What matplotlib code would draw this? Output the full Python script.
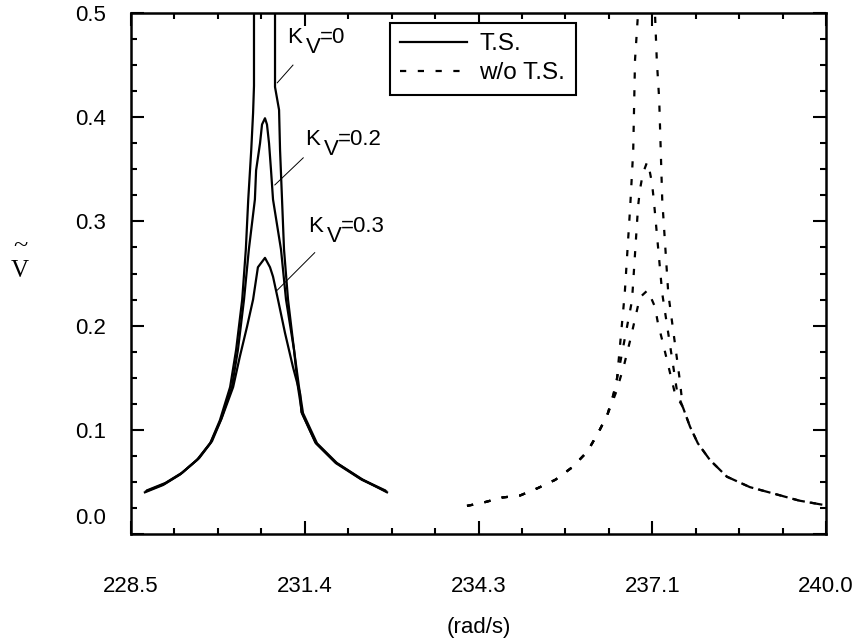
import matplotlib
matplotlib.use("Agg")
import matplotlib.pyplot as plt
from matplotlib.ticker import AutoMinorLocator, FixedLocator, MultipleLocator

plt.rcParams["font.family"] = ["Liberation Sans", "DejaVu Sans"]

# ---- T.S. (solid) response curves
ts_k0_x = [228.73, 229.03, 229.31, 229.59, 229.81, 229.97, 230.14, 230.24, 230.34,
           230.40, 230.44, 230.49, 230.52, 230.535, 230.535,
           230.883, 230.883, 230.95, 230.966, 230.999, 231.032, 231.098, 231.197,
           231.28, 231.346, 231.578, 231.909, 232.339, 232.736]
ts_k0_y = [0.040, 0.047, 0.057, 0.071, 0.087, 0.109, 0.141, 0.177, 0.225,
           0.273, 0.321, 0.369, 0.404, 0.430, 0.560,
           0.560, 0.429, 0.407, 0.369, 0.321, 0.273, 0.225, 0.177,
           0.141, 0.116, 0.087, 0.068, 0.052, 0.040]

ts_k2_x = [228.75, 229.05, 229.33, 229.61, 229.82, 229.99, 230.17, 230.27, 230.37,
           230.45, 230.55, 230.57, 230.635, 230.668, 230.717, 230.75, 230.784,
           230.817, 230.85, 230.982, 231.065, 231.197, 231.263, 231.33, 231.56,
           231.89, 232.32, 232.72]
ts_k2_y = [0.041, 0.048, 0.058, 0.072, 0.088, 0.110, 0.141, 0.177, 0.225,
           0.273, 0.321, 0.349, 0.375, 0.393, 0.399, 0.393, 0.375,
           0.349, 0.321, 0.273, 0.225, 0.177, 0.141, 0.116, 0.087,
           0.068, 0.052, 0.041]

ts_k3_x = [228.77, 229.07, 229.35, 229.63, 229.84, 230.00, 230.19, 230.30, 230.42,
           230.52, 230.60, 230.717, 230.80, 230.85, 230.932, 231.048, 231.181,
           231.296, 231.32, 231.55, 231.88, 232.30, 232.70]
ts_k3_y = [0.042, 0.049, 0.059, 0.073, 0.089, 0.111, 0.141, 0.170, 0.199,
           0.225, 0.256, 0.265, 0.256, 0.247, 0.225, 0.193, 0.160,
           0.135, 0.117, 0.088, 0.069, 0.053, 0.042]

# ---- w/o T.S. (dashed) response curves; the three share the low-frequency tail
nts_tail_x = [234.06, 234.32, 234.64, 234.94, 235.23, 235.52, 235.80, 236.05, 236.23,
              236.38]
nts_tail_y = [0.027, 0.030, 0.035, 0.037, 0.044, 0.052, 0.064, 0.079, 0.097,
              0.114]

nts_k0_x = [236.46, 236.54, 236.67, 236.76, 236.81, 236.84, 236.89, 236.89,
            237.17, 237.17, 237.20, 237.24, 237.29, 237.39, 237.58, 237.63, 237.75,
            237.88, 238.08, 238.36, 238.74, 239.12, 239.56, 239.95, 240.0]
nts_k0_y = [0.129, 0.148, 0.231, 0.314, 0.368, 0.455, 0.500, 0.560,
            0.560, 0.500, 0.455, 0.417, 0.321, 0.231, 0.148, 0.122, 0.103,
            0.087, 0.071, 0.055, 0.045, 0.039, 0.032, 0.028, 0.028]

nts_k2_x = [236.49, 236.58, 236.79, 236.89, 236.92, 236.97, 237.04,
            237.07, 237.12, 237.15, 237.29, 237.54, 237.63, 237.75,
            237.88, 238.08, 238.36, 238.74, 239.12, 239.56, 239.95, 240.0]
nts_k2_y = [0.135, 0.160, 0.224, 0.314, 0.330, 0.346, 0.357,
            0.352, 0.337, 0.321, 0.231, 0.135, 0.122, 0.103,
            0.087, 0.071, 0.055, 0.045, 0.039, 0.032, 0.028, 0.028]

nts_k3_x = [236.52, 236.65, 236.76, 236.92, 237.05, 237.17, 237.22,
            237.29, 237.50, 237.63, 237.75, 237.88, 238.08, 238.36, 238.74,
            239.12, 239.56, 239.95, 240.0]
nts_k3_y = [0.135, 0.160, 0.186, 0.227, 0.234, 0.218, 0.202,
            0.186, 0.135, 0.122, 0.103, 0.087, 0.071, 0.055, 0.045,
            0.039, 0.032, 0.028, 0.028]

# ---- K_V labels and their leader lines
kv_labels = ["0", "0.2", "0.3"]
kv_text_x = [231.08, 231.38, 231.43]
kv_text_y = [0.471, 0.373, 0.290]
kv_line_x0 = [231.18, 231.35, 231.54]
kv_line_y0 = [0.450, 0.361, 0.270]
kv_line_x1 = [230.92, 230.88, 230.92]
kv_line_y1 = [0.433, 0.335, 0.234]

x_ticks = [228.5, 231.375, 234.25, 237.125, 240.0]
x_tick_labels = ["228.5", "231.4", "234.3", "237.1", "240.0"]

FS = 16
DASH = (2.8, 5.2)

fig = plt.figure(figsize=(8.62, 6.44), dpi=100)
ax = fig.add_axes([131 / 862, 1 - 534 / 644, 695 / 862, 521 / 644])

lw = 1.6
ax.plot(ts_k0_x, ts_k0_y, color="black", lw=lw, label="T.S.")
ax.plot(ts_k2_x, ts_k2_y, color="black", lw=lw)
ax.plot(ts_k3_x, ts_k3_y, color="black", lw=lw)
ax.plot(nts_tail_x + nts_k0_x, nts_tail_y + nts_k0_y, color="black", lw=lw,
        dashes=DASH, label="w/o T.S.")
ax.plot(nts_tail_x + nts_k2_x, nts_tail_y + nts_k2_y, color="black", lw=lw, dashes=DASH)
ax.plot(nts_tail_x + nts_k3_x, nts_tail_y + nts_k3_y, color="black", lw=lw, dashes=DASH)

for lab, tx, ty, x0, y0, x1, y1 in zip(kv_labels, kv_text_x, kv_text_y,
                                       kv_line_x0, kv_line_y0, kv_line_x1, kv_line_y1):
    ax.text(tx, ty, "K", fontsize=FS, ha="left", va="baseline")
    ax.annotate("V", xy=(tx, ty), xytext=(13.5, -7), textcoords="offset points",
                fontsize=FS, ha="left", va="baseline")
    ax.annotate("=" + lab, xy=(tx, ty), xytext=(23.5, 0), textcoords="offset points",
                fontsize=FS, ha="left", va="baseline")
    ax.plot([x0, x1], [y0, y1], color="black", lw=0.7)

ax.set_xlim(228.5, 240.0)
ax.set_ylim(0.0, 0.5)
ax.xaxis.set_major_locator(FixedLocator(x_ticks))
ax.set_xticklabels(x_tick_labels)
ax.xaxis.set_minor_locator(AutoMinorLocator(4))
ax.yaxis.set_major_locator(MultipleLocator(0.1))
ax.yaxis.set_minor_locator(AutoMinorLocator(4))
# 0.0 is drawn separately, a little above its tick
ax.yaxis.set_major_formatter(lambda v, p: "" if abs(v) < 1e-9 else f"{v:.1f}")

for s in ax.spines.values():
    s.set_linewidth(1.8)
ax.tick_params(which="both", direction="in", top=True, right=True, width=1.5)
ax.tick_params(which="major", length=9.5, labelsize=FS)
ax.tick_params(which="minor", length=4.5)
ax.tick_params(axis="x", which="major", pad=30)
ax.tick_params(axis="y", which="major", pad=18)

ax.annotate("0.0", xy=(0, 0), xycoords=("axes fraction", "data"), xytext=(-18, 11),
            textcoords="offset points", ha="right", va="center", fontsize=FS)

ax.set_xlabel("(rad/s)", fontsize=FS, labelpad=15)
fig.text(20 / 862, 1 - 271 / 644, "V", fontsize=18, family="Liberation Serif",
         ha="center", va="center")
fig.text(20 / 862, 1 - 246 / 644, "~", fontsize=19, family="Liberation Serif",
         ha="center", va="center")

leg = ax.legend(loc="upper left", bbox_to_anchor=(0.373, 0.981), fontsize=17.5,
                frameon=True, fancybox=False, edgecolor="black", framealpha=1,
                borderaxespad=0, handlelength=2.75, handletextpad=0.5,
                labelspacing=0.3, borderpad=0.42)
leg.get_frame().set_linewidth(1.5)

fig.savefig("out.png", dpi=100)
